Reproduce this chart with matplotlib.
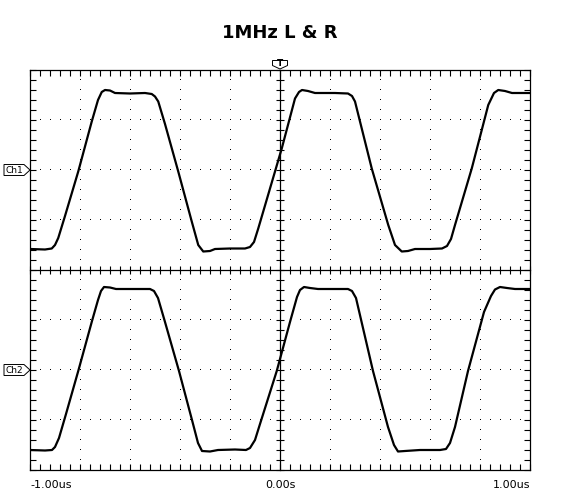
import numpy as np
import matplotlib
matplotlib.use("Agg")
import matplotlib.pyplot as plt
from matplotlib.patches import Polygon
from matplotlib.transforms import blended_transform_factory

# time in us, amplitude in divisions
ch1_t = [-1.0, -0.94, -0.913, -0.9, -0.887, -0.86, -0.807, -0.753, -0.728, -0.713,
         -0.70, -0.68, -0.66, -0.60, -0.54, -0.513, -0.50, -0.487, -0.46, -0.407,
         -0.353, -0.327, -0.307, -0.28, -0.26, -0.20, -0.14, -0.12, -0.104, -0.087,
         -0.02, 0.007, 0.06, 0.076, 0.088, 0.112, 0.14, 0.22, 0.272, 0.288,
         0.30, 0.367, 0.433, 0.46, 0.487, 0.512, 0.54, 0.60, 0.648, 0.668,
         0.684, 0.70, 0.767, 0.833, 0.856, 0.873, 0.90, 0.928, 1.0]
ch1_v = [-1.58, -1.59, -1.57, -1.50, -1.36, -0.92, -0.03, 0.97, 1.40, 1.56,
         1.60, 1.59, 1.54, 1.53, 1.54, 1.52, 1.47, 1.37, 0.92, -0.03,
         -1.03, -1.50, -1.63, -1.62, -1.58, -1.57, -1.57, -1.54, -1.44, -1.17,
         -0.03, 0.43, 1.43, 1.56, 1.60, 1.58, 1.54, 1.54, 1.53, 1.48,
         1.37, 0.03, -1.10, -1.50, -1.63, -1.62, -1.58, -1.58, -1.57, -1.52,
         -1.38, -1.10, 0.03, 1.30, 1.54, 1.60, 1.58, 1.54, 1.54]

ch2_t = [-1.0, -0.94, -0.912, -0.90, -0.884, -0.856, -0.807, -0.752, -0.728, -0.716,
         -0.704, -0.68, -0.656, -0.58, -0.52, -0.504, -0.488, -0.46, -0.404, -0.352,
         -0.328, -0.312, -0.28, -0.248, -0.18, -0.136, -0.12, -0.10, -0.08, -0.013,
         0.04, 0.068, 0.08, 0.096, 0.12, 0.152, 0.22, 0.272, 0.288, 0.304,
         0.372, 0.432, 0.456, 0.472, 0.50, 0.56, 0.64, 0.664, 0.68, 0.70,
         0.752, 0.816, 0.844, 0.86, 0.88, 0.908, 0.94, 1.0]
ch2_v = [-1.60, -1.61, -1.60, -1.54, -1.36, -0.88, -0.02, 0.98, 1.40, 1.58,
         1.66, 1.65, 1.62, 1.62, 1.62, 1.58, 1.44, 0.96, -0.02, -1.0,
         -1.46, -1.62, -1.63, -1.60, -1.59, -1.60, -1.56, -1.40, -1.08, -0.02,
         0.96, 1.46, 1.60, 1.66, 1.64, 1.62, 1.62, 1.62, 1.58, 1.44,
         -0.02, -1.14, -1.50, -1.63, -1.62, -1.60, -1.60, -1.58, -1.46, -1.14,
         -0.02, 1.16, 1.48, 1.61, 1.66, 1.64, 1.62, 1.62]

channels = ["Ch1", "Ch2"]
x_labels = ["-1.00us", "0.00s", "1.00us"]
title = "1MHz L & R"

W, H = 561, 491
fig = plt.figure(figsize=(W / 100, H / 100), dpi=100)
rect = [30 / W, (H - 470) / H, 500 / W, 400 / H]
ax = fig.add_axes(rect)
ax.set_xlim(-1, 1)
ax.set_ylim(-4, 4)

offsets = [2, -2]
ax.plot(np.array(ch1_t), np.array(ch1_v) + offsets[0], color="black", lw=1.6, zorder=3)
ax.plot(np.array(ch2_t), np.array(ch2_v) + offsets[1], color="black", lw=1.6, zorder=3)

# dotted graticule
xs = np.arange(-1, 1.0001, 0.04)
ys = np.arange(-4, 4.0001, 0.2)
for gx in [-0.8, -0.6, -0.4, -0.2, 0.2, 0.4, 0.6, 0.8]:
    ax.plot(np.full(len(ys), gx), ys, ",", color="black", zorder=1)
for gy in [-3, -2, -1, 1, 2, 3]:
    ax.plot(xs, np.full(len(xs), gy), ",", color="black", zorder=1)

# border ticks
ax.set_xticks(np.arange(-1, 1.0001, 0.04))
ax.set_yticks(np.arange(-4, 4.0001, 0.2))
ax.tick_params(direction="in", length=4, width=0.8, top=True, right=True,
               labelbottom=False, labelleft=False)
for s in ax.spines.values():
    s.set_linewidth(0.9)

# centre crosshair with ticks
ax2 = fig.add_axes(rect, sharex=ax, sharey=ax)
ax2.patch.set_visible(False)
ax2.spines["top"].set_visible(False)
ax2.spines["right"].set_visible(False)
ax2.spines["left"].set_position(("data", 0))
ax2.spines["bottom"].set_position(("data", 0))
ax2.spines["left"].set_linewidth(0.9)
ax2.spines["bottom"].set_linewidth(0.9)
ax2.tick_params(direction="inout", length=5.5, width=0.8,
                labelbottom=False, labelleft=False)

# x labels
ax.text(0.0, -0.025, x_labels[0], transform=ax.transAxes, ha="left", va="top", fontsize=8)
ax.text(0.5, -0.025, x_labels[1], transform=ax.transAxes, ha="center", va="top", fontsize=8)
ax.text(1.0, -0.025, x_labels[2], transform=ax.transAxes, ha="right", va="top", fontsize=8)

fig.text(280 / W, 1 - 33 / H, title, ha="center", va="center", fontsize=13, fontweight="bold")

# channel markers
bt = blended_transform_factory(fig.transFigure, ax.transData)
for name, off in zip(channels, offsets):
    pts = [(4 / W, off - 0.11), (24 / W, off - 0.11), (30 / W, off), (24 / W, off + 0.11), (4 / W, off + 0.11)]
    fig.patches.append(Polygon(pts, closed=True, facecolor="white", edgecolor="black",
                               lw=0.7, transform=bt, figure=fig))
    fig.text(14.5 / W, off, name, transform=bt, ha="center", va="center", fontsize=6.5)

# trigger marker
tt = blended_transform_factory(ax.transData, fig.transFigure)
tp = [(-0.03, 1 - 60.5 / H), (0.03, 1 - 60.5 / H), (0.03, 1 - 65.5 / H), (0.0, 1 - 69 / H), (-0.03, 1 - 65.5 / H)]
fig.patches.append(Polygon(tp, closed=True, facecolor="white", edgecolor="black",
                           lw=0.7, transform=tt, figure=fig))
fig.text(0.0, 1 - 64 / H, "T", transform=tt, ha="center", va="center", fontsize=6.5, fontweight="bold")

fig.savefig("out.png", dpi=100)
